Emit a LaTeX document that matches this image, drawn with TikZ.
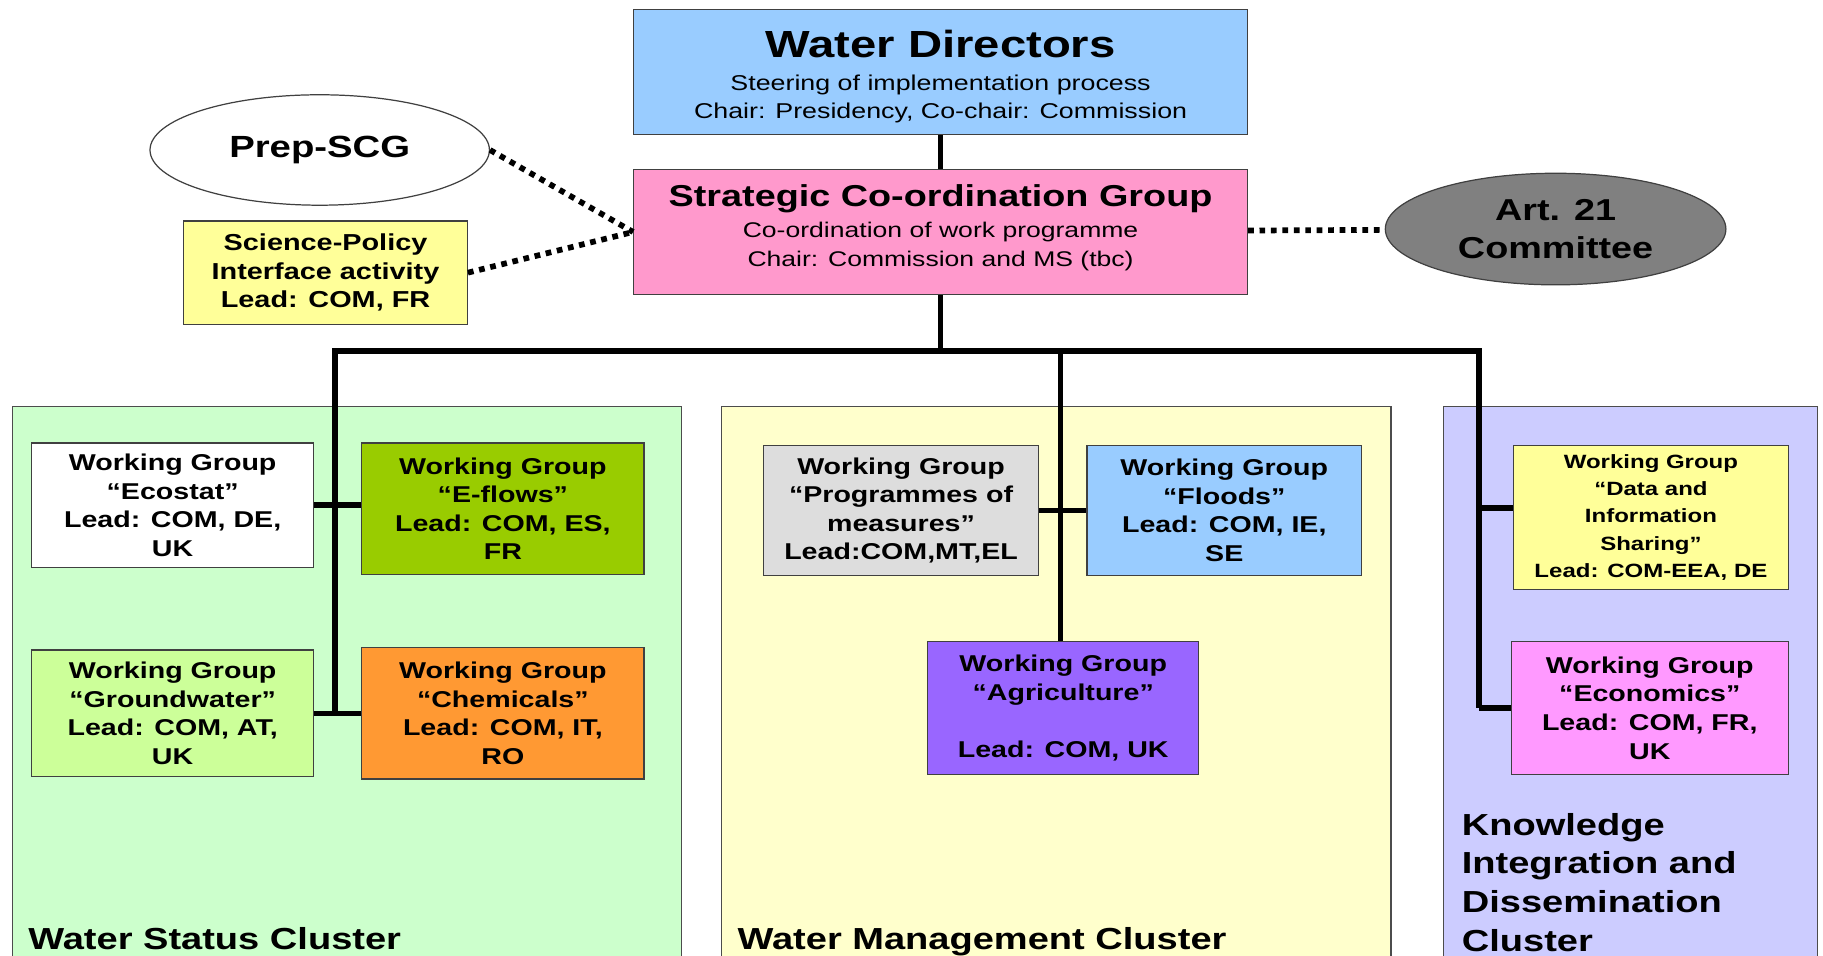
\documentclass[tikz,border=0pt]{standalone}
\usepackage{fontspec}
\setmainfont{Liberation Sans}[FakeStretch=1.25]
\usetikzlibrary{positioning,shapes.geometric}
\definecolor{wdblue}{HTML}{99CCFF}
\definecolor{scgpink}{HTML}{FF99CC}
\definecolor{sciyellow}{HTML}{FFFF99}
\definecolor{artgrey}{HTML}{808080}
\definecolor{statusgreen}{HTML}{CCFFCC}
\definecolor{mgmtyellow}{HTML}{FFFFCC}
\definecolor{kidblue}{HTML}{CCCCFF}
\definecolor{eflowsgreen}{HTML}{99CC00}
\definecolor{gwgreen}{HTML}{CCFF99}
\definecolor{chemorange}{HTML}{FF9933}
\definecolor{pomgrey}{HTML}{DDDDDD}
\definecolor{agripurple}{HTML}{9966FF}
\definecolor{econpink}{HTML}{FF99FF}
\begin{document}
\begin{tikzpicture}[x=0.02cm,y=-0.02cm,
  box/.style={draw=black!75,line width=0.6pt,rectangle,inner sep=0pt,align=center},
  wg/.style={box,minimum width=4.86cm,font=\bfseries\fontsize{11.2}{14}\selectfont},
  cluster/.style={draw=black!70,line width=0.6pt,rectangle,anchor=north west,minimum height=9.7cm},
  clusterlabel/.style={inner sep=0pt,font=\bfseries\fontsize{14.9}{19}\selectfont},
  conn/.style={line width=2.7pt},
  dots/.style={line width=2.8pt,dash pattern=on 2.8pt off 2.8pt}]
    \useasboundingbox (0,0) rectangle (1568,822);
    % clusters
    \node(statuscl)[cluster,fill=statusgreen,minimum width=11.52cm] at (10,349) {};
    \node(mgmtcl)[cluster,fill=mgmtyellow,minimum width=11.52cm] at (620,349) {};
    \node(kidcl)[cluster,fill=kidblue,minimum width=6.44cm] at (1241,349) {};
    \node(statuslbl)[clusterlabel,anchor=base west] at (24,817) {Water Status Cluster};
    \node(mgmtlbl)[clusterlabel,anchor=base west] at (634,817) {Water Management Cluster};
    \node(kidlbl)[clusterlabel,anchor=north west,align=left] at (1257,699) {Knowledge\\Integration and\\Dissemination\\Cluster};
    % top
    \node(wd)[box,fill=wdblue,minimum width=10.56cm,minimum height=2.16cm,text height=47.5pt,text depth=2.2pt,font=\fontsize{10.5}{13.5}\selectfont] at (809,62) {{\fontsize{18.5}{18.5}\selectfont\bfseries Water Directors}\\[3pt] Steering of implementation process\\Chair: Presidency, Co-chair: Commission};
    \node(scg)[box,fill=scgpink,minimum width=10.56cm,minimum height=2.14cm,text depth=6.4pt,below=0.58cm of wd,font=\fontsize{10.4}{14}\selectfont] {{\fontsize{14.8}{14.8}\selectfont\bfseries Strategic Co-ordination Group}\\[1.2pt]Co-ordination of work programme\\Chair: Commission and MS (tbc)};
    \node(prep)[ellipse,draw=black!75,line width=0.6pt,fill=white,minimum width=5.84cm,minimum height=1.9cm,inner sep=0pt,font=\bfseries\fontsize{15}{19}\selectfont] at (275,129) {Prep-SCG};
    \node(sci)[box,fill=sciyellow,minimum width=4.88cm,minimum height=1.78cm,font=\bfseries\fontsize{11.3}{13.9}\selectfont] at (280,234.5) {Science-Policy\\Interface activity\\Lead: COM, FR};
    \node(art)[ellipse,draw=black!75,line width=0.6pt,fill=artgrey,minimum width=5.86cm,minimum height=1.92cm,inner sep=0pt,align=center,font=\bfseries\fontsize{14.8}{18.7}\selectfont] at (1338,197) {Art. 21\\Committee};
    % working groups
    \node(ecostat)[wg,fill=white,minimum height=2.14cm] at (148.5,434.5) {Working Group\\“Ecostat”\\Lead: COM, DE,\\UK};
    \node(eflows)[wg,fill=eflowsgreen,minimum height=2.26cm,right=0.8cm of ecostat.north east,anchor=north west] {Working Group\\“E-flows”\\Lead: COM, ES,\\FR};
    \node(gw)[wg,fill=gwgreen,minimum height=2.18cm] at (148.5,613.5) {Working Group\\“Groundwater”\\Lead: COM, AT,\\UK};
    \node(chem)[wg,fill=chemorange,minimum height=2.26cm,right=0.8cm of gw] {Working Group\\“Chemicals”\\Lead: COM, IT,\\RO};
    \node(pom)[wg,fill=pomgrey,minimum width=4.72cm,minimum height=2.24cm] at (775,439) {Working Group\\“Programmes of\\measures”\\Lead:COM,MT,EL};
    \node(floods)[wg,fill=wdblue,minimum width=4.72cm,minimum height=2.24cm,right=0.82cm of pom] {Working Group\\“Floods”\\Lead: COM, IE,\\SE};
    \node(agri)[wg,fill=agripurple,minimum width=4.66cm,minimum height=2.28cm] at (914.5,609) {Working Group\\“Agriculture”\\[14pt]Lead: COM, UK};
    \node(data)[wg,fill=sciyellow,minimum width=4.72cm,minimum height=2.48cm,font=\bfseries\fontsize{9.4}{13.3}\selectfont] at (1420,445) {Working Group\\“Data and\\Information\\Sharing”\\Lead: COM-EEA, DE};
    \node(econ)[wg,fill=econpink,minimum width=4.76cm,minimum height=2.28cm] at (1419,609) {Working Group\\“Economics”\\Lead: COM, FR,\\UK};
    % connectors
    \coordinate(busL) at (288,302);
    \coordinate(busM) at (912,302);
    \coordinate(busR) at (1272,302);
    \draw[conn] (wd) -- (scg);
    \draw[conn] (scg) -- (scg.south |- busL);
    \draw[conn] (busL |- gw.east) -- (busL) -- (busR) -- (busR |- econ.west);
    \draw[conn] (busM) -- (busM |- agri.north);
    \draw[conn] (ecostat.east) -- (ecostat.east -| eflows.west);
    \draw[conn] (gw) -- (chem);
    \draw[conn] (pom) -- (floods);
    \draw[conn] ([yshift=0.16cm]busR |- data.west) -- ([yshift=0.16cm]data.west);
    \draw[conn] (busR |- econ.west) -- (econ);
    \draw[dots] (prep.east) -- (scg.west);
    \draw[dots] (sci.east) -- (scg.west);
    \draw[dots] (scg) -- (art);
\end{tikzpicture}
\end{document}
